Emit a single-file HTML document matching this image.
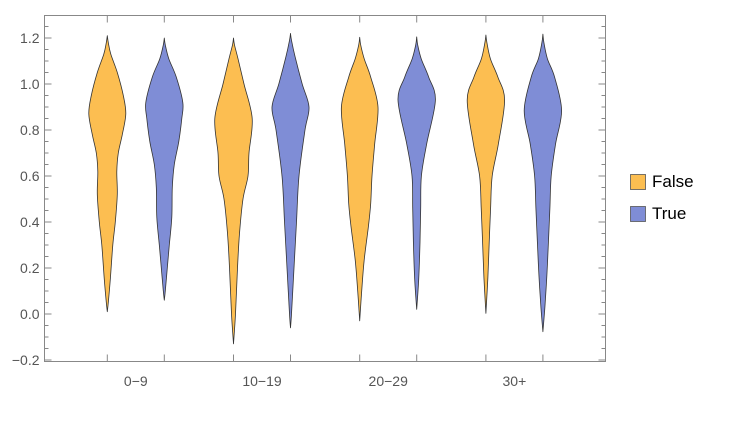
<!DOCTYPE html>
<html><head><meta charset="utf-8"><style>
body{margin:0;background:#fff;}
svg{display:block;font-family:"Liberation Sans",sans-serif;}
</style></head><body>
<svg id="chart" width="732" height="428" viewBox="0 0 732 428" xmlns="http://www.w3.org/2000/svg">
<g id="ticks"></g>
<g id="violins"></g>
<g>
  <rect x="630.5" y="174.5" width="15" height="15" fill="#FCBE51" stroke="#555" stroke-width="0.8"/>
  <text x="652" y="187" font-size="17" fill="#000">False</text>
  <rect x="630.5" y="206.5" width="15" height="15" fill="#7F8DD6" stroke="#555" stroke-width="0.8"/>
  <text x="652" y="219" font-size="17" fill="#000">True</text>
</g>
</svg>
<script>
const categories = ["0-9","10-19","20-29","30+"];
const groups = ["False","True"];
const yTicks = [-0.2,0,0.2,0.4,0.6,0.8,1.0,1.2];
const yTickLabels = ["\u22120.2","0.0","0.2","0.4","0.6","0.8","1.0","1.2"];
// each violin: knot values and half-width densities
const v1Values = [1.21,1.18,1.13,1.05,0.95,0.87,0.78,0.70,0.62,0.52,0.40,0.30,0.15,0.05,0.01];
const v1Density = [0,1,3.5,10,16,18.5,15,11,9.5,10,8,5.5,3,1,0];
const v2Values = [1.20,1.17,1.11,1.03,0.92,0.85,0.75,0.65,0.55,0.42,0.30,0.20,0.10,0.06];
const v2Density = [0,1,4.5,12,18.5,17.5,14.5,10,8,7.5,5,3,1,0];
const v3Values = [1.20,1.17,1.11,1.00,0.85,0.70,0.60,0.50,0.35,0.20,0.00,-0.13];
const v3Density = [0,1,4.5,10.5,18.7,15.5,14.5,9.5,6,4,2,0];
const v4Values = [1.22,1.19,1.12,1.00,0.90,0.80,0.60,0.40,0.20,0.00,-0.06];
const v4Density = [0,1,4.5,11.7,18.5,14.5,8.5,6,3.5,1,0];
const v5Values = [1.203,1.17,1.11,1.03,0.90,0.74,0.60,0.48,0.38,0.235,0.10,-0.03];
const v5Density = [0,1,4.5,11,18.3,15,12.3,11,8.7,4.5,2,0];
const v6Values = [1.205,1.17,1.11,1.03,0.93,0.74,0.60,0.46,0.31,0.15,0.02];
const v6Density = [0,1,4.5,12,18.7,10,4.7,4,3.3,2,0];
const v7Values = [1.213,1.18,1.11,1.03,0.93,0.74,0.60,0.46,0.31,0.16,0.003];
const v7Density = [0,1,4.5,12,18.7,12.5,6.3,4.7,3.3,2,0];
const v8Values = [1.217,1.18,1.11,1.03,0.885,0.74,0.60,0.46,0.31,0.17,0.03,-0.077];
const v8Density = [0,1,4.5,11.7,18.7,12.7,8.3,7,5.5,4,2,0];

const violinValues = [v1Values,v2Values,v3Values,v4Values,v5Values,v6Values,v7Values,v8Values];
const violinDensity = [v1Density,v2Density,v3Density,v4Density,v5Density,v6Density,v7Density,v8Density];

const NS="http://www.w3.org/2000/svg";
const L=44.5,R=605.5,T=15.5,B=361.5;
function yScale(v){return 314-v*230;}
function xCenter(ci,gi){return 107.3+ci*126.2+gi*57;}
function mk(tag,attrs,parent){const e=document.createElementNS(NS,tag);for(const k in attrs)e.setAttribute(k,attrs[k]);parent.appendChild(e);return e;}

const tg=document.getElementById('ticks');
const frame=mk('rect',{x:L,y:T,width:R-L,height:B-T,fill:'none',stroke:'#888','stroke-width':1},tg);


for(let v=-0.2;v<=1.2501;v+=0.05){
  const y=yScale(v); const major=Math.abs(Math.round(v*5)-v*5)<1e-6;
  const len=major?7:4;
  const t1=mk('line',{x1:L,x2:L+len,y1:y,y2:y,stroke:'#888'},tg);
  
  
  const t2=mk('line',{x1:R,x2:R-len,y1:y,y2:y,stroke:'#888'},tg);
  
  
}
yTicks.forEach((v,i)=>{
  const t=mk('text',{x:L-5,y:yScale(v)+5,'text-anchor':'end','font-size':14,fill:'#555'},tg);
  t.textContent=yTickLabels[i];
  
  
});
categories.forEach((c,ci)=>{
  groups.forEach((g,gi)=>{
    const x=xCenter(ci,gi);
    const a=mk('line',{x1:x,x2:x,y1:B,y2:B-7,stroke:'#888'},tg);
    
    
    const b=mk('line',{x1:x,x2:x,y1:T,y2:T+7,stroke:'#888'},tg);
    
    
  });
  const t=mk('text',{x:(xCenter(ci,0)+xCenter(ci,1))/2,y:386,'text-anchor':'middle','font-size':14,fill:'#555'},tg);
  t.textContent=c.replace('-','\u2212');
  
  
});

function catmull(pts){
  let d='M'+pts[0][0].toFixed(2)+','+pts[0][1].toFixed(2);
  for(let i=0;i<pts.length-1;i++){
    const p0=pts[Math.max(0,i-1)],p1=pts[i],p2=pts[i+1],p3=pts[Math.min(pts.length-1,i+2)];
    const c1=[p1[0]+(p2[0]-p0[0])/6,p1[1]+(p2[1]-p0[1])/6];
    const c2=[p2[0]-(p3[0]-p1[0])/6,p2[1]-(p3[1]-p1[1])/6];
    d+='C'+c1[0].toFixed(2)+','+c1[1].toFixed(2)+' '+c2[0].toFixed(2)+','+c2[1].toFixed(2)+' '+p2[0].toFixed(2)+','+p2[1].toFixed(2);
  }
  return d;
}
const vg=document.getElementById('violins');
const colors=['#FCBE51','#7F8DD6'];
violinValues.forEach((vals,k)=>{
  const ci=Math.floor(k/2),gi=k%2,cx=xCenter(ci,gi),dens=violinDensity[k];
  const right=vals.map((v,i)=>[cx+dens[i],yScale(v)]);
  const left=vals.map((v,i)=>[cx-dens[i],yScale(v)]).reverse();
  const d=catmull(right)+catmull(left).replace('M','L')+'Z';
  const p=mk('path',{d:d,fill:colors[gi],stroke:'#333','stroke-width':0.8,'stroke-linejoin':'round'},vg);
  
  
});
</script>
</body></html>
